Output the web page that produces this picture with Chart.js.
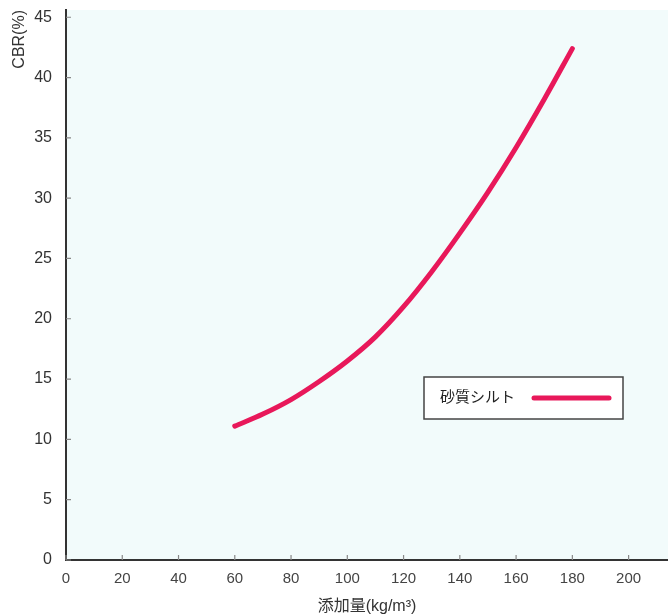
<!DOCTYPE html>
<html><head><meta charset="utf-8">
<script src="https://cdn.jsdelivr.net/npm/chart.js@4.4.0/dist/chart.umd.min.js"></script>
<style>html,body{margin:0;padding:0;background:#fff;}#wrap{width:668px;height:616px;}</style>
</head><body><div id="wrap"><canvas id="c" width="668" height="616"></canvas></div>
<script>
const additions = [60, 70, 80, 90, 100, 110, 120, 130, 140, 150, 160, 170, 180];
const cbrValues = [11.1, 12.1, 13.3, 14.8, 16.5, 18.5, 21.0, 23.9, 27.1, 30.5, 34.2, 38.2, 42.4];
const seriesName = '砂質シルト';
const xTitle = '添加量(kg/m³)';
const yTitle = 'CBR(%)';
const xTicks = [0, 20, 40, 60, 80, 100, 120, 140, 160, 180, 200];
const yTicks = [0, 5, 10, 15, 20, 25, 30, 35, 40, 45];

const FONT = "'Liberation Sans', Arial, 'Noto Sans CJK JP', sans-serif";
const LINE = '#e8185a';

const bgPlugin = {
  id: 'bg',
  beforeDraw(chart) {
    const {ctx, chartArea: a} = chart;
    ctx.save();
    ctx.fillStyle = '#f2fbfb';
    ctx.fillRect(a.left, a.top, a.right - a.left, a.bottom - a.top);
    ctx.restore();
  },
  afterDraw(chart) {
    const {ctx, chartArea: a, scales} = chart;
    ctx.save();
    ctx.strokeStyle = '#888';
    ctx.lineWidth = 1.2;
    ctx.beginPath();
    xTicks.forEach(v => {
      const px = scales.x.getPixelForValue(v);
      ctx.moveTo(px, a.bottom); ctx.lineTo(px, a.bottom - 5);
    });
    yTicks.forEach(v => {
      const py = scales.y.getPixelForValue(v);
      ctx.moveTo(a.left, py); ctx.lineTo(a.left + 5, py);
    });
    ctx.stroke();
    // legend box
    const bx = a.left + 358, by = a.top + 367, bw = 199, bh = 42;
    ctx.fillStyle = '#ffffff';
    ctx.fillRect(bx, by, bw, bh);
    ctx.strokeStyle = '#444';
    ctx.lineWidth = 1.5;
    ctx.strokeRect(bx, by, bw, bh);
    ctx.fillStyle = '#222';
    ctx.font = "15px " + FONT;
    ctx.textBaseline = 'middle';
    ctx.fillText(seriesName, bx + 16, by + bh / 2);
    ctx.strokeStyle = LINE;
    ctx.lineWidth = 5;
    ctx.lineCap = 'round';
    ctx.beginPath();
    ctx.moveTo(bx + 110, by + bh / 2);
    ctx.lineTo(bx + 185, by + bh / 2);
    ctx.stroke();
    ctx.restore();
  }
};

new Chart(document.getElementById('c'), {
  type: 'line',
  data: {
    datasets: [{
      label: seriesName,
      data: additions.map((x, i) => ({x, y: cbrValues[i]})),
      borderColor: LINE,
      borderWidth: 5,
      borderCapStyle: 'round',
      pointRadius: 0,
      cubicInterpolationMode: 'monotone',
      fill: false
    }]
  },
  options: {
    responsive: false,
    animation: false,
    devicePixelRatio: 1,
    layout: {padding: {top: 10, right: 0, left: 0, bottom: 0}},
    plugins: {legend: {display: false}, tooltip: {enabled: false}},
    scales: {
      x: {
        type: 'linear', min: 0, max: 214,
        afterBuildTicks(s) { s.ticks = xTicks.map(v => ({value: v})); },
        afterFit(s) { s.height = 56; s.paddingRight = 0; },
        grid: {display: false},
        border: {display: true, color: '#333', width: 2},
        ticks: {font: {size: 15, family: FONT}, color: '#444', padding: 2, maxRotation: 0, autoSkip: false},
        title: {display: true, text: xTitle, font: {size: 16, family: FONT}, color: '#333', padding: {top: 3, bottom: 0}}
      },
      y: {
        type: 'linear', min: 0, max: 45.6,
        afterBuildTicks(s) { s.ticks = yTicks.map(v => ({value: v})); },
        afterFit(s) { s.width = 66; s.paddingTop = 0; s.paddingBottom = 0; },
        grid: {display: false},
        border: {display: true, color: '#333', width: 2},
        ticks: {font: {size: 16, family: FONT}, color: '#333', padding: 6, autoSkip: false},
        title: {display: true, text: yTitle, align: 'end', font: {size: 16, family: FONT}, color: '#333', padding: {top: 10, bottom: 0}}
      }
    }
  },
  plugins: [bgPlugin]
});
</script></body></html>
